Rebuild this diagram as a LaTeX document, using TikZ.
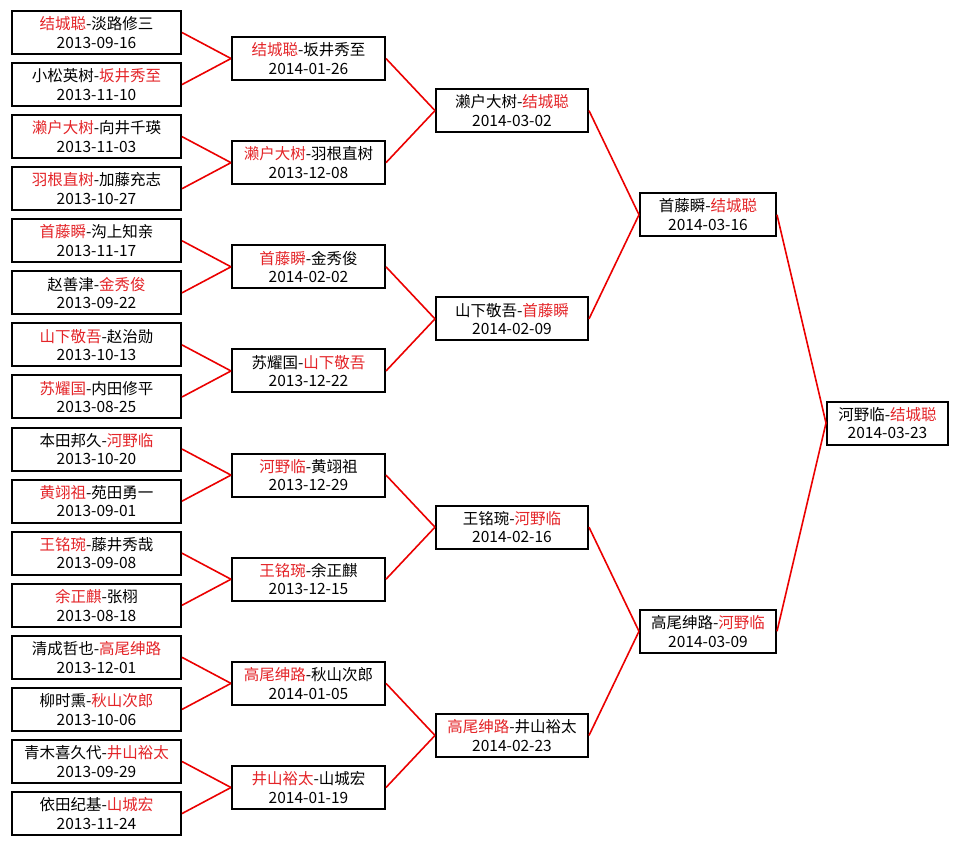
\documentclass[tikz,border=0pt]{standalone}
\usepackage{fontspec}
\newfontfamily\cjk{Noto Sans CJK SC}
\definecolor{wred}{RGB}{228,36,40}
\definecolor{lred}{RGB}{235,0,0}
\newcommand{\R}[1]{\textcolor{wred}{#1}}
\begin{document}
\begin{tikzpicture}[x=1pt,y=-1pt,
  box/.style={draw=black,line width=2pt,inner sep=0pt,align=center,
    minimum height=43pt,fill=white,
    font=\cjk\fontsize{15.5}{18.5}\selectfont},
  ra/.style={box,minimum width=169pt},
  rb/.style={box,minimum width=153pt},
  rc/.style={box,minimum width=152pt},
  rd/.style={box,minimum width=136pt},
  rf/.style={box,minimum width=121pt},
  conn/.style={draw=lred,line width=1.6pt}]
\fill[white] (0,0) rectangle (959,845);
\useasboundingbox (0,0) rectangle (959,845);
\def\p{52.07}
% round 1
\node[ra] (a1)  at (96.5,{32.5+0*\p})  {\R{结城聪}-淡路修三\\2013-09-16};
\node[ra] (a2)  at (96.5,{32.5+1*\p})  {小松英树-\R{坂井秀至}\\2013-11-10};
\node[ra] (a3)  at (96.5,{32.5+2*\p})  {\R{濑户大树}-向井千瑛\\2013-11-03};
\node[ra] (a4)  at (96.5,{32.5+3*\p})  {\R{羽根直树}-加藤充志\\2013-10-27};
\node[ra] (a5)  at (96.5,{32.5+4*\p})  {\R{首藤瞬}-沟上知亲\\2013-11-17};
\node[ra] (a6)  at (96.5,{32.5+5*\p})  {赵善津-\R{金秀俊}\\2013-09-22};
\node[ra] (a7)  at (96.5,{32.5+6*\p})  {\R{山下敬吾}-赵治勋\\2013-10-13};
\node[ra] (a8)  at (96.5,{32.5+7*\p})  {\R{苏耀国}-内田修平\\2013-08-25};
\node[ra] (a9)  at (96.5,{32.5+8*\p})  {本田邦久-\R{河野临}\\2013-10-20};
\node[ra] (a10) at (96.5,{32.5+9*\p})  {\R{黄翊祖}-苑田勇一\\2013-09-01};
\node[ra] (a11) at (96.5,{32.5+10*\p}) {\R{王铭琬}-藤井秀哉\\2013-09-08};
\node[ra] (a12) at (96.5,{32.5+11*\p}) {\R{余正麒}-张栩\\2013-08-18};
\node[ra] (a13) at (96.5,{32.5+12*\p}) {清成哲也-\R{高尾绅路}\\2013-12-01};
\node[ra] (a14) at (96.5,{32.5+13*\p}) {柳时熏-\R{秋山次郎}\\2013-10-06};
\node[ra] (a15) at (96.5,{32.5+14*\p}) {青木喜久代-\R{井山裕太}\\2013-09-29};
\node[ra] (a16) at (96.5,{32.5+15*\p}) {依田纪基-\R{山城宏}\\2013-11-24};
% round 2
\node[rb] (b1) at (308.5,{32.5+0.5*\p})  {\R{结城聪}-坂井秀至\\2014-01-26};
\node[rb] (b2) at (308.5,{32.5+2.5*\p})  {\R{濑户大树}-羽根直树\\2013-12-08};
\node[rb] (b3) at (308.5,{32.5+4.5*\p})  {\R{首藤瞬}-金秀俊\\2014-02-02};
\node[rb] (b4) at (308.5,{32.5+6.5*\p})  {苏耀国-\R{山下敬吾}\\2013-12-22};
\node[rb] (b5) at (308.5,{32.5+8.5*\p})  {\R{河野临}-黄翊祖\\2013-12-29};
\node[rb] (b6) at (308.5,{32.5+10.5*\p}) {\R{王铭琬}-余正麒\\2013-12-15};
\node[rb] (b7) at (308.5,{32.5+12.5*\p}) {\R{高尾绅路}-秋山次郎\\2014-01-05};
\node[rb] (b8) at (308.5,{32.5+14.5*\p}) {\R{井山裕太}-山城宏\\2014-01-19};
% round 3
\node[rc] (c1) at (512,{32.5+1.5*\p})  {濑户大树-\R{结城聪}\\2014-03-02};
\node[rc] (c2) at (512,{32.5+5.5*\p})  {山下敬吾-\R{首藤瞬}\\2014-02-09};
\node[rc] (c3) at (512,{32.5+9.5*\p})  {王铭琬-\R{河野临}\\2014-02-16};
\node[rc] (c4) at (512,{32.5+13.5*\p}) {\R{高尾绅路}-井山裕太\\2014-02-23};
% round 4
\node[rd] (d1) at (708,{32.5+3.5*\p})  {首藤瞬-\R{结城聪}\\2014-03-16};
\node[rd] (d2) at (708,{32.5+11.5*\p}) {高尾绅路-\R{河野临}\\2014-03-09};
% final
\node[rf] (f) at (887.5,{32.5+7.5*\p}) {河野临-\R{结城聪}\\2014-03-23};
% connectors
\foreach \i/\j in {1/1,2/1,3/2,4/2,5/3,6/3,7/4,8/4,9/5,10/5,11/6,12/6,13/7,14/7,15/8,16/8}
  \draw[conn] (a\i.east) -- (b\j.west);
\foreach \i/\j in {1/1,2/1,3/2,4/2,5/3,6/3,7/4,8/4}
  \draw[conn] (b\i.east) -- (c\j.west);
\foreach \i/\j in {1/1,2/1,3/2,4/2}
  \draw[conn] (c\i.east) -- (d\j.west);
\draw[conn] (d1.east) -- (f.west);
\draw[conn] (d2.east) -- (f.west);
\end{tikzpicture}
\end{document}
